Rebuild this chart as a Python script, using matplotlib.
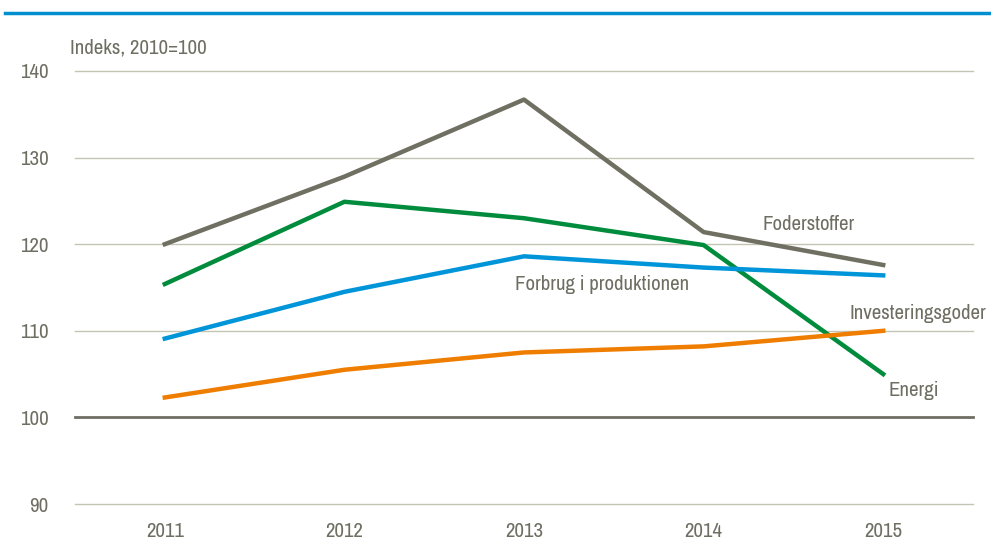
import matplotlib
matplotlib.use("Agg")
import matplotlib.pyplot as plt
from matplotlib.lines import Line2D
from matplotlib import font_manager as fm

avail = {f.name for f in fm.fontManager.ttflist}
font = 'DejaVu Sans'
for cand in ['Liberation Sans Narrow', 'Arial Narrow', 'Archivo Narrow', 'PT Sans Narrow',
             'Roboto Condensed', 'Pragati Narrow', 'Open Sans Condensed', 'Encode Sans Condensed']:
    if cand in avail:
        font = cand
        break
plt.rcParams['font.family'] = [font, 'DejaVu Sans']

years = [2011, 2012, 2013, 2014, 2015]
foderstoffer = [120.0, 127.8, 136.7, 121.4, 117.6]
energi = [115.4, 124.9, 123.0, 119.9, 105.0]
forbrug = [109.1, 114.5, 118.6, 117.3, 116.4]
investering = [102.3, 105.5, 107.5, 108.2, 110.0]
yticks = [90, 100, 110, 120, 130, 140]

txt = '#6e6e62'
fig = plt.figure(figsize=(9.91, 5.46), dpi=100)
ax = fig.add_axes([75/991, 1-504/546, (973-75)/991, (504-71)/546])

for y in yticks:
    if y == 100:
        ax.axhline(y, color='#6e6e62', lw=2.0, zorder=1, clip_on=False)
    else:
        ax.axhline(y, color='#c4c4b4', lw=1.0, zorder=1, clip_on=False)

ax.plot(years, foderstoffer, color='#6f6f62', lw=3.2, zorder=3)
ax.plot(years, energi, color='#008c3c', lw=3.2, zorder=3)
ax.plot(years, forbrug, color='#0095d9', lw=3.2, zorder=3)
ax.plot(years, investering, color='#ef7d00', lw=3.2, zorder=3)

ax.set_xlim(2010.5, 2015.5)
ax.set_ylim(90, 140)
ax.set_xticks(years)
ax.set_yticks(yticks)
ax.tick_params(length=0, labelsize=15, colors=txt)
ax.tick_params(axis='y', pad=19)
ax.tick_params(axis='x', pad=13)
for s in ax.spines.values():
    s.set_visible(False)

fs = 15
ax.text(2014.33, 122.3, 'Foderstoffer', color=txt, fontsize=fs, ha='left', va='center')
ax.text(2012.95, 115.4, 'Forbrug i produktionen', color=txt, fontsize=fs, ha='left', va='center')
ax.text(2014.81, 112.0, 'Investeringsgoder', color=txt, fontsize=fs, ha='left', va='center')
ax.text(2015.03, 103.1, 'Energi', color=txt, fontsize=fs, ha='left', va='center')

fig.text(70/991, 1-48/546, 'Indeks, 2010=100', color=txt, fontsize=fs, ha='left', va='center')

fig.add_artist(Line2D([5/991, 1.0], [1-13/546, 1-13/546], color='#0090d0', lw=2.5))

fig.savefig('out.png', dpi=100)
